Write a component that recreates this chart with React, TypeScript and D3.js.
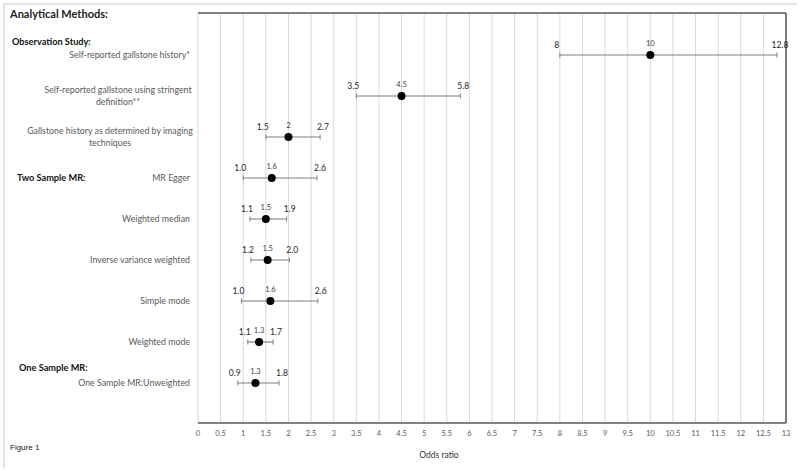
import React from 'react';
import * as d3 from 'd3';

// Rows of the forest plot, top to bottom
const rowLabels: string[][] = [
  ['Self-reported gallstone history*'],
  ['Self-reported gallstone using stringent', 'definition**'],
  ['Gallstone history as determined by imaging', 'techniques'],
  ['MR Egger'],
  ['Weighted median'],
  ['Inverse variance weighted'],
  ['Simple mode'],
  ['Weighted mode'],
  ['One Sample MR:Unweighted'],
];

const estimates = [10, 4.5, 2, 1.63, 1.5, 1.54, 1.6, 1.35, 1.27];
const lowers = [8, 3.5, 1.5, 1.0, 1.15, 1.17, 0.96, 1.1, 0.88];
const uppers = [12.8, 5.8, 2.7, 2.63, 1.96, 2.02, 2.65, 1.66, 1.79];

const estimateLabels = ['10', '4.5', '2', '1.6', '1.5', '1.5', '1.6', '1.3', '1.3'];
const lowerLabels = ['8', '3.5', '1.5', '1.0', '1.1', '1.2', '1.0', '1.1', '0.9'];
const upperLabels = ['12.8', '5.8', '2.7', '2.6', '1.9', '2.0', '2.6', '1.7', '1.8'];

// Section headings and the row they sit beside
const groupTitles = ['Observation Study:', 'Two Sample MR:', 'One Sample MR:'];
const groupRows = [0, 3, 8];

const xTicks = d3.range(0, 13.01, 0.5);

const FONT = 'Lato, "Open Sans", sans-serif';
const WIDTH = 800;
const HEIGHT = 471;

// layout tweaks for headings and wrapped labels
const groupLayout = [
  { x: 12, dy: -13 },
  { x: 17, dy: 0 },
  { x: 19, dy: -15 },
];
const wrapCenter: Record<number, number> = { 1: 118, 2: 110 };

export default function App() {
  const x = d3.scaleLinear().domain([0, 13]).range([198, 786]);
  const y = d3.scaleLinear().domain([0, rowLabels.length - 1]).range([55, 383]);
  const top = 13;
  const bottom = 423;

  return (
    <svg
      width={WIDTH}
      height={HEIGHT}
      style={{ position: 'absolute', left: 0, top: 0, background: '#fff' }}
      fontFamily={FONT}
    >
      {/* outer frame (top + left only visible) */}
      <line x1={3} x2={797} y1={4} y2={4} stroke="#e4e4e4" strokeWidth={2} />
      <line x1={4} x2={4} y1={3} y2={468} stroke="#e4e4e4" strokeWidth={2} />

      <text x={10} y={18} fontSize={11} fontWeight={700} fill="#222">
        Analytical Methods:
      </text>

      {/* gridlines */}
      {xTicks.map((t) => (
        <line key={t} x1={x(t)} x2={x(t)} y1={top} y2={bottom} stroke="#d9d9d9" strokeWidth={1} />
      ))}

      {/* plot frame */}
      <line x1={x(0)} x2={x(13)} y1={top} y2={top} stroke="#595959" strokeWidth={1.5} />
      <line x1={x(13)} x2={x(13)} y1={top} y2={bottom} stroke="#595959" strokeWidth={1.5} />
      <line x1={x(0)} x2={x(13)} y1={bottom} y2={bottom} stroke="#595959" strokeWidth={1.5} />

      {/* x axis tick labels */}
      {xTicks.map((t) => (
        <text key={t} x={x(t)} y={436} fontSize={7.5} fill="#595959" textAnchor="middle">
          {d3.format('~g')(t)}
        </text>
      ))}
      <text x={439} y={458} fontSize={8.5} fill="#333" textAnchor="middle">
        Odds ratio
      </text>

      <text x={10} y={450} fontSize={8} fill="#222" fontFamily="Arial, 'Liberation Sans', sans-serif">
        Figure 1
      </text>

      {/* group headings */}
      {groupTitles.map((title, k) => (
        <text
          key={title}
          x={groupLayout[k].x}
          y={y(groupRows[k]) + groupLayout[k].dy + 3}
          fontSize={9.2}
          fontWeight={700}
          fill="#111"
        >
          {title}
        </text>
      ))}

      {/* row labels */}
      {rowLabels.map((lines, i) =>
        lines.map((line, j) => {
          const wrapped = lines.length > 1;
          return (
            <text
              key={`${i}-${j}`}
              x={wrapped ? wrapCenter[i] : 190}
              y={y(i) + 3 + (wrapped ? (j === 0 ? -6.5 : 5.5) : 0)}
              fontSize={8.8}
              fill="#595959"
              textAnchor={wrapped ? 'middle' : 'end'}
            >
              {line}
            </text>
          );
        })
      )}

      {/* error bars, points and labels */}
      {estimates.map((est, i) => {
        const cy = y(i);
        return (
          <g key={i}>
            <line x1={x(lowers[i])} x2={x(uppers[i])} y1={cy} y2={cy} stroke="#7f7f7f" strokeWidth={1.2} />
            <line x1={x(lowers[i])} x2={x(lowers[i])} y1={cy - 2.5} y2={cy + 2.5} stroke="#7f7f7f" strokeWidth={1} />
            <line x1={x(uppers[i])} x2={x(uppers[i])} y1={cy - 2.5} y2={cy + 2.5} stroke="#7f7f7f" strokeWidth={1} />
            <circle cx={x(est)} cy={cy} r={4} fill="#000" />
            <text x={x(est)} y={cy - 9} fontSize={7.5} fill="#404040" textAnchor="middle">
              {estimateLabels[i]}
            </text>
            <text x={x(lowers[i]) - 3} y={cy - 7} fontSize={8.6} fill="#262626" textAnchor="middle">
              {lowerLabels[i]}
            </text>
            <text x={x(uppers[i]) + 3} y={cy - 7} fontSize={8.6} fill="#262626" textAnchor="middle">
              {upperLabels[i]}
            </text>
          </g>
        );
      })}
    </svg>
  );
}
